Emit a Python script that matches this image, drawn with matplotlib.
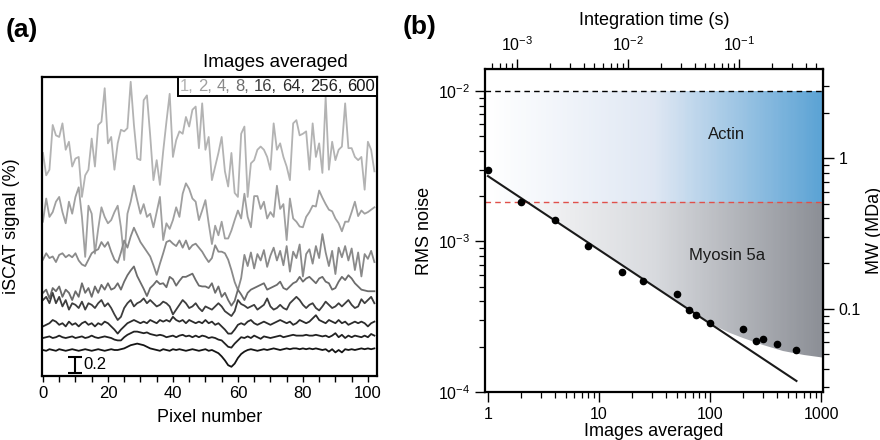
import numpy as np
import matplotlib
matplotlib.use("Agg")
import matplotlib.pyplot as plt
from matplotlib.patches import Polygon
from matplotlib.colors import LinearSegmentedColormap
from matplotlib.offsetbox import TextArea, HPacker, AnchoredOffsetbox
from matplotlib.ticker import MultipleLocator, LogLocator, FuncFormatter, NullFormatter

plt.rcParams['font.family'] = ['Liberation Sans', 'DejaVu Sans']
plt.rcParams['mathtext.fontset'] = 'custom'
plt.rcParams['mathtext.rm'] = 'Liberation Sans'
plt.rcParams['mathtext.it'] = 'Liberation Sans:italic'
plt.rcParams['mathtext.default'] = 'regular'

# ---------------- panel (a): line profiles, iSCAT signal (%) ----------------
frames_averaged = [1, 2, 4, 8, 16, 64, 256, 600]

trace_1 = [-0.12, -0.40, -0.33, 0.23, 0.10, 0.08, 0.25, -0.08, 0.02, -0.29, -0.19, -0.17, -0.67, -0.40, -0.33,
           0.06, -0.29, 0.23, 0.27, 0.69, 0.00, 0.08, -0.33, 0.00, 0.17, 0.15, 0.19, 0.77, 0.23, -0.19, -0.21,
           0.54, 0.60, 0.10, -0.46, -0.21, -0.52, -0.10, 0.27, 0.62, -0.17, 0.04, 0.15, 0.12, 0.33, 0.21, 0.42,
           0.46, -0.06,
           0.50, -0.08, 0.08, -0.46, -0.29, -0.12, 0.08, -0.35, -0.54, -0.12, -0.62, -0.67, 0.12, 0.21, -0.67,
           -0.25, -0.21, -0.08, -0.04, -0.08, -0.17, -0.33, 0.25, -0.08, 0.00, -0.17, -0.29, -0.46, 0.25, 0.29,
           0.10, 0.12, 0.15, -0.33, 0.25, -0.17, 0.00, -0.37, 0.58, -0.33, 0.02, -0.21, -0.08, -0.04, 0.50,
           -0.06, -0.06, -0.17, -0.21, -0.17, -0.58, 0.02, -0.08, -0.35]
trace_2 = [-0.10, 0.19, -0.04, 0.02, 0.15, 0.21, 0.02, -0.12, 0.15, 0.00, 0.21, 0.33, -0.04, -0.54, 0.10,
           0.00, -0.50, -0.19, 0.08, -0.04, -0.12, -0.08, 0.02, 0.10, -0.17, -0.58, 0.00, 0.15, 0.35, 0.17,
           0.00, 0.12, -0.04, 0.00, -0.17, 0.02, 0.21, -0.33, -0.12, -0.19, -0.08, 0.08, -0.04, 0.25, 0.38,
           0.31, 0.19, 0.15, -0.08, 0.04,
           0.17, -0.12, -0.38, -0.15, -0.27, -0.10, -0.31, -0.31, -0.21, -0.08, 0.04, -0.06, 0.25, -0.04, -0.17,
           0.22, 0.22, 0.06, 0.15, -0.06, 0.02, -0.04, 0.35, 0.06, 0.12, -0.33, 0.19, -0.06, -0.10, -0.16,
           -0.17, -0.04, 0.02, 0.10, 0.09, 0.29, 0.20, 0.12, 0.05, 0.03, -0.06, -0.12, -0.22, -0.10, -0.10,
           0.02, 0.15, -0.03, 0.04, 0.00, 0.02, 0.05, 0.08]
trace_3 = [0.03, 0.11, 0.05, 0.07, 0.00, 0.09, 0.11, 0.06, 0.09, 0.06, 0.11, 0.02, -0.03, -0.05, 0.03,
           0.11, 0.14, 0.16, 0.25, 0.19, 0.25, 0.13, 0.03, -0.01, 0.12, 0.27, 0.18, 0.32, 0.43, 0.34,
           0.25, 0.19, 0.13, 0.07, -0.04, -0.16, -0.02, 0.11, 0.25, 0.27, 0.23, 0.20, 0.27, 0.18, 0.27,
           0.16, 0.21, 0.23, 0.18, 0.13, 0.06,
           0.00, 0.05, 0.21, 0.13, 0.13, 0.11, 0.03, -0.10, -0.25, -0.35, -0.20,
           0.09, -0.05, 0.12, -0.08, 0.10, 0.02, 0.15, -0.06, 0.08, 0.18, 0.02, 0.14, -0.04, 0.20, -0.12,
           0.13, 0.05, 0.22, -0.18, 0.10, 0.16, -0.02, 0.20, 0.05, 0.35, 0.12, -0.05, 0.14, -0.15, 0.18,
           0.06, 0.20, 0.02, 0.17, -0.10, 0.12, -0.18, 0.10, 0.04, 0.14, 0.00]
trace_4 = [-0.10, -0.06, -0.17, -0.04, -0.08, -0.02, -0.15, -0.06, -0.10, -0.19, -0.08, -0.15, 0.02, -0.10,
           -0.04, -0.15, -0.02, -0.10, 0.00, -0.06, 0.02, -0.06, -0.04, 0.02, -0.06, 0.04, 0.12, 0.18, 0.23,
           0.11, 0.03, -0.05, -0.14, -0.04, 0.00, 0.05, 0.01, 0.02, -0.03, 0.10, 0.07, -0.01, 0.05, 0.10,
           0.10, 0.12, 0.14, 0.06, -0.01, -0.02, -0.02,
           -0.04, 0.02, -0.10, -0.02, -0.15, -0.10, -0.19, -0.26, -0.20, -0.06, -0.12, -0.19, -0.10, -0.06,
           -0.04, -0.02, 0.00, 0.02, -0.06, -0.04, -0.02, 0.00, 0.04, -0.04, -0.06, -0.02, 0.02, 0.04, 0.10,
           0.04, 0.08, 0.10, 0.06, 0.02, 0.08, 0.10, 0.04, 0.02, -0.06, -0.04, 0.04, 0.10, 0.06, 0.12, 0.08,
           0.02, -0.02, -0.06, -0.07, -0.08, -0.08, -0.08]
trace_5 = [0.06, 0.10, 0.02, 0.15, 0.02, 0.10, -0.02, 0.06, -0.06, 0.02, 0.00, -0.04, 0.04, -0.06, 0.02,
           0.00, -0.04, 0.02, 0.06, -0.02, 0.02, -0.04, -0.12, -0.19, -0.15, -0.04, 0.02, 0.06, -0.02, 0.02,
           0.04, 0.08, 0.02, 0.06, 0.02, -0.02, 0.00, 0.04, 0.02, -0.02, -0.12, -0.06, 0.00, 0.06, 0.02,
           -0.04, -0.02, 0.02, -0.04, -0.08, -0.02,
           -0.04, -0.06, -0.02, 0.02, -0.02, -0.08, -0.11, -0.14, -0.08, 0.06, 0.01, -0.01, -0.04, -0.02,
           0.00, -0.06, -0.03, 0.00, 0.08, -0.02, -0.06, -0.04, 0.00, -0.04, -0.06, 0.02, 0.06, 0.10, 0.06,
           0.00, -0.04, 0.00, 0.02, -0.04, -0.07, -0.02, 0.04, 0.00, -0.04, -0.02, 0.02, -0.02, 0.02, 0.06,
           0.00, -0.04, -0.02, 0.07, 0.02, 0.06, 0.10, 0.02]
trace_6 = [-0.01, 0.01, 0.03, 0.07, 0.05, 0.01, 0.03, -0.01, 0.05, 0.01, 0.03, -0.01, 0.03, 0.05, 0.01,
           0.03, -0.01, 0.03, 0.01, 0.05, 0.03, -0.01, -0.05, -0.10, -0.05, -0.01, 0.03, 0.05, 0.07, 0.05,
           0.03, 0.05, 0.03, 0.07, 0.05, 0.03, 0.07, 0.05, 0.07, 0.05, 0.11, 0.07, 0.05, 0.07, 0.03,
           0.07, 0.05, 0.03, 0.05, 0.03, 0.07,
           0.03, 0.05, 0.01, 0.03, -0.01, -0.05, -0.10, -0.10, -0.05, 0.01, 0.03, 0.01, 0.05, 0.07, 0.03,
           0.01, 0.03, 0.05, 0.03, 0.01, 0.03, 0.05, 0.07, 0.05, 0.03, 0.05, 0.01, 0.03, 0.07, 0.05,
           0.03, 0.05, 0.09, 0.13, 0.07, 0.05, 0.03, 0.07, 0.05, 0.03, 0.07, 0.03, 0.05, 0.01, 0.03,
           0.05, 0.03, 0.05, 0.03, -0.01, 0.03, 0.05]
trace_7 = [0.00, 0.01, 0.02, 0.00, 0.01, 0.03, 0.01, 0.00, 0.01, 0.02, 0.00, 0.01, 0.02, 0.00, 0.01,
           0.03, 0.01, 0.00, 0.01, 0.02, 0.01, 0.00, -0.02, -0.03, -0.03, 0.01, 0.04, 0.06, 0.08, 0.08,
           0.07, 0.06, 0.07, 0.05, 0.04, 0.03, 0.04, 0.03, 0.01, 0.02, 0.03, 0.01, 0.03, 0.04, 0.02,
           0.03, 0.01, 0.03, 0.01, 0.03, 0.02,
           0.00, 0.01, 0.00, -0.02, -0.03, -0.07, -0.11, -0.12, -0.07, -0.03, 0.01, 0.00, 0.02, 0.00, 0.03,
           0.01, -0.01, 0.02, 0.01, 0.00, 0.01, 0.02, 0.03, 0.01, 0.02, 0.03, 0.04, 0.03, 0.03, 0.03,
           0.04, 0.03, 0.03, 0.04, 0.03, 0.02, 0.03, 0.01, 0.03, 0.06, 0.01, 0.04, 0.00, 0.03, 0.01,
           0.03, 0.02, 0.01, 0.03, 0.01, 0.05, 0.03]
trace_8 = [0.00, -0.01, 0.01, 0.00, -0.01, 0.01, 0.00, -0.01, 0.00, 0.01, 0.00, -0.01, 0.00, 0.01, 0.00,
           -0.01, 0.00, 0.01, 0.00, -0.01, 0.00, 0.01, 0.00, 0.00, 0.01, 0.02, 0.04, 0.06, 0.07, 0.08,
           0.07, 0.06, 0.04, 0.02, 0.01, 0.00, -0.01, 0.01, 0.00, -0.01, 0.01, 0.00, 0.01, 0.00, -0.01,
           0.00, 0.01, 0.00, -0.01, 0.00, 0.01,
           -0.01, 0.00, -0.02, -0.04, -0.08, -0.13, -0.19, -0.21, -0.17, -0.10, -0.05, -0.02, 0.00, 0.01,
           0.00, -0.01, 0.00, 0.01, 0.00, 0.01, 0.02, 0.01, 0.00, 0.01, 0.02, 0.01, 0.02, 0.02, 0.01, 0.02,
           0.01, 0.02, 0.01, 0.02, 0.01, 0.00, 0.01, -0.02, 0.01, -0.03, 0.00, -0.03, 0.01, 0.00, 0.01,
           0.00, 0.01, 0.02, 0.01, 0.02, 0.01, 0.02]

traces = [trace_1, trace_2, trace_3, trace_4, trace_5, trace_6, trace_7, trace_8]
stack_offsets = [2.91, 2.03, 1.425, 1.14, 0.89, 0.63, 0.475, 0.325]
trace_colors = ['#b3b3b3', '#a0a0a0', '#8a8a8a', '#6c6c6c', '#3e3e3e', '#2c2c2c', '#222222', '#151515']
scale_bar_value = 0.2

# ---------------- panel (b): RMS noise vs number of images ----------------
images = [1, 2, 4, 8, 16, 25, 50, 64, 75, 100, 200, 260, 300, 400, 600]
rms_noise = [2.97e-3, 1.82e-3, 1.38e-3, 9.4e-4, 6.3e-4, 5.5e-4, 4.5e-4, 3.52e-4, 3.26e-4, 2.88e-4,
             2.63e-4, 2.19e-4, 2.26e-4, 2.09e-4, 1.91e-4]
fit_amplitude = 2.72e-3
fit_exponent = -0.49
fit_range = [1, 600]
actin_limit = 1.0e-2
myosin_limit = 1.82e-3
shade_floor_n = [80, 110, 150, 200, 300, 450, 700, 1100]
shade_floor_rms = [3.18e-4, 2.75e-4, 2.48e-4, 2.28e-4, 2.04e-4, 1.87e-4, 1.76e-4, 1.67e-4]
frame_time = 5.5e-4          # s per image
mda_per_rms = 280.0          # MW (MDa) per unit RMS contrast

fig = plt.figure(figsize=(8.8, 4.4), dpi=100)

# ---------- (a) ----------
ax_a = fig.add_axes([0.0477, 0.1455, 0.3807, 0.6795])
for tr, off, col in zip(traces, stack_offsets, trace_colors):
    y = np.asarray(tr) + off
    ax_a.plot(np.arange(len(y)), y, color=col, lw=1.3, solid_joinstyle='round')
ax_a.set_xlim(-0.3, 102.8)
ax_a.set_ylim(0, 3.74)
ax_a.set_yticks([])
ax_a.xaxis.set_major_locator(MultipleLocator(20))
ax_a.xaxis.set_minor_locator(MultipleLocator(5))
ax_a.tick_params(axis='x', which='both', direction='out', length=4, width=1.0, labelsize=12, pad=3)
for sp in ax_a.spines.values():
    sp.set_linewidth(1.6)
ax_a.set_xlabel('Pixel number', fontsize=13, labelpad=6)
ax_a.set_ylabel('iSCAT signal (%)', fontsize=13)
ax_a.yaxis.set_label_coords(-0.066, 0.5)

# scale bar
ax_a.errorbar([10], [0.04 + scale_bar_value / 2], yerr=[scale_bar_value / 2], color='black',
              lw=1.5, capsize=4.7, capthick=1.5)
ax_a.text(12.3, 0.04 + scale_bar_value / 2, f'{scale_bar_value:g}', fontsize=12, va='center', ha='left')

ax_a.text(0.696, 1.05, 'Images averaged', transform=ax_a.transAxes, fontsize=13.5,
          ha='center', va='center')
pieces = []
for k, (n, col) in enumerate(zip(frames_averaged, trace_colors)):
    s = f'{n},' if k < len(frames_averaged) - 1 else f'{n}'
    pieces.append(TextArea(s, textprops=dict(color=col, fontsize=12)))
packer = HPacker(children=pieces, align='baseline', pad=0, sep=3.5)
legend_box = AnchoredOffsetbox(loc='upper right', child=packer, pad=0.15, borderpad=0,
                               frameon=True, bbox_to_anchor=(1, 1),
                               bbox_transform=ax_a.transAxes)
legend_box.patch.set_linewidth(1.4)
legend_box.patch.set_edgecolor('black')
legend_box.patch.set_boxstyle('square', pad=0)
ax_a.add_artist(legend_box)

# ---------- (b) ----------
ax_b = fig.add_axes([0.5511, 0.1091, 0.3841, 0.7341])
ax_b.set_xscale('log')
ax_b.set_yscale('log')
xlo, xhi = 0.94, 1040
ylo, yhi = 1.0e-4, 1.4e-2
ax_b.set_xlim(xlo, xhi)
ax_b.set_ylim(ylo, yhi)

xe = np.logspace(np.log10(xlo), np.log10(xhi), 300)
frac = (np.log10(xe[:-1]) - np.log10(xlo)) / (np.log10(xhi) - np.log10(xlo))
blue_cmap = LinearSegmentedColormap.from_list('actin', ['#ffffff', '#dfe7f3', '#5aa2d4'])
gray_cmap = LinearSegmentedColormap.from_list('myosin', ['#ffffff', '#d8dade', '#8b8e95'])

ax_b.pcolormesh(xe, [myosin_limit, actin_limit], frac[None, :], cmap=blue_cmap, vmin=0, vmax=1,
                shading='flat', edgecolors='none', antialiased=False, zorder=0)
gray_mesh = ax_b.pcolormesh(xe, [ylo, myosin_limit], frac[None, :], cmap=gray_cmap, vmin=0, vmax=1,
                            shading='flat', edgecolors='none', antialiased=False, zorder=0)
n_cross = (fit_amplitude / myosin_limit) ** (1.0 / -fit_exponent)
poly_pts = [(n_cross, myosin_limit)] + list(zip(shade_floor_n, shade_floor_rms)) + \
           [(shade_floor_n[-1], myosin_limit)]
clip_poly = Polygon(poly_pts, closed=True, transform=ax_b.transData, facecolor='none', edgecolor='none')
ax_b.add_patch(clip_poly)
gray_mesh.set_clip_path(clip_poly)

ax_b.axhline(actin_limit, color='black', lw=1.0, ls=(0, (4, 3)), zorder=2)
ax_b.axhline(myosin_limit, color='#e0504a', lw=1.0, ls=(0, (4, 3)), zorder=2)

n_fit = np.logspace(np.log10(fit_range[0]), np.log10(fit_range[1]), 50)
ax_b.plot(n_fit, fit_amplitude * n_fit ** fit_exponent, color='#1a1a1a', lw=1.5, zorder=3)
ax_b.plot(images, rms_noise, 'o', color='black', ms=4.5, zorder=4)

ax_b.text(0.716, 0.796, 'Actin', transform=ax_b.transAxes, fontsize=12, ha='center', va='center',
          color='#1a1a1a')
ax_b.text(0.716, 0.424, 'Myosin 5a', transform=ax_b.transAxes, fontsize=12, ha='center', va='center',
          color='#1a1a1a')

plain = FuncFormatter(lambda v, p: f'{v:g}')
ax_b.xaxis.set_major_locator(LogLocator(base=10, numticks=10))
ax_b.xaxis.set_minor_locator(LogLocator(base=10, subs=np.arange(2, 10), numticks=20))
ax_b.xaxis.set_major_formatter(plain)
ax_b.xaxis.set_minor_formatter(NullFormatter())
ax_b.yaxis.set_minor_locator(LogLocator(base=10, subs=np.arange(2, 10), numticks=20))
ax_b.yaxis.set_minor_formatter(NullFormatter())
ax_b.tick_params(which='major', direction='out', length=7, width=1.0, labelsize=11.5)
ax_b.tick_params(which='minor', direction='out', length=4, width=0.9)
for sp in ax_b.spines.values():
    sp.set_linewidth(1.6)
ax_b.set_xlabel('Images averaged', fontsize=13, labelpad=1)
ax_b.set_ylabel('RMS noise', fontsize=13, labelpad=4)

top = ax_b.secondary_xaxis('top', functions=(lambda n: n * frame_time, lambda t: t / frame_time))
top.xaxis.set_major_locator(LogLocator(base=10, numticks=10))
top.xaxis.set_minor_locator(LogLocator(base=10, subs=np.arange(2, 10), numticks=20))
top.xaxis.set_minor_formatter(NullFormatter())
top.tick_params(which='major', direction='out', length=7, width=1.0, labelsize=11.5)
top.tick_params(which='minor', direction='out', length=4, width=0.9)
top.set_xlabel('Integration time (s)', fontsize=13, labelpad=8)

right = ax_b.secondary_yaxis('right', functions=(lambda r: r * mda_per_rms, lambda m: m / mda_per_rms))
right.yaxis.set_major_locator(LogLocator(base=10, numticks=10))
right.yaxis.set_minor_locator(LogLocator(base=10, subs=np.arange(2, 10), numticks=20))
right.yaxis.set_major_formatter(plain)
right.yaxis.set_minor_formatter(NullFormatter())
right.tick_params(which='major', direction='out', length=8, width=1.0, labelsize=11.5, pad=3)
right.tick_params(which='minor', direction='out', length=4, width=0.9)
right.set_ylabel('MW (MDa)', fontsize=13)
right.yaxis.set_label_coords(1.127, 0.5, transform=ax_b.transAxes)

fig.text(0.006, 0.96, '(a)', fontsize=19, fontweight='bold', ha='left', va='top')
fig.text(0.458, 0.966, '(b)', fontsize=19, fontweight='bold', ha='left', va='top')

fig.savefig('out.png', dpi=100)
